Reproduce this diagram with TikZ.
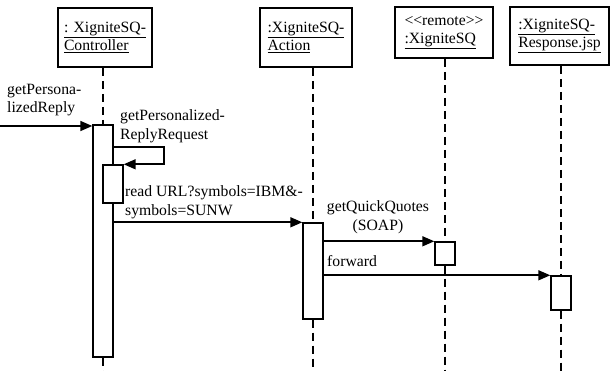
\documentclass[tikz,border=0pt]{standalone}
\usepackage{fontspec}
\setmainfont{Liberation Serif}
\usetikzlibrary{arrows.meta,positioning}

\begin{document}
\begin{tikzpicture}[x=1pt, y=-1pt,
    font=\fontsize{15.7}{18.5}\selectfont,
    object/.style={rectangle, draw, line width=1.8pt, align=left, inner sep=0pt},
    activation/.style={rectangle, draw, fill=white, line width=1.4pt, minimum width=20pt, inner sep=0pt},
    lifeline/.style={line width=1.5pt, dash pattern=on 8pt off 5pt},
    msg/.style={-{Triangle[length=12pt,width=10pt]}, line width=1.6pt},
    msglabel/.style={inner sep=0pt, align=left, anchor=north west}]

    \useasboundingbox (0,0) rectangle (611,371);

    % objects
    \node[object, minimum width=94pt, minimum height=59pt] (ctrl) at (105,37.5) {\underline{: XigniteSQ-}\\\underline{Controller}};
    \node[object, minimum width=92pt, minimum height=59pt] (action) at (306,37.5) {\underline{:XigniteSQ-}\\\underline{Action}};
    \node[object, minimum width=98pt, minimum height=51pt] (remote) at (444,32.5) {<\kern0pt<remote>\kern0pt>\\\underline{:XigniteSQ}};
    \node[object, minimum width=99pt, minimum height=58pt] (resp) at (559.5,36) {\underline{:XigniteSQ-}\\\underline{Response.jsp}};

    % activations
    \node[activation, minimum height=232pt] (ctrlact) at (103,241) {};
    \node[activation, minimum height=38pt] (nestact) at (113,184) {};
    \node[activation, minimum height=96pt] (actact) at (313,271) {};
    \node[activation, minimum height=23pt] (remact) at (445,253.5) {};
    \node[activation, minimum height=34pt] (respact) at (561,293) {};

    % lifelines
    \draw[lifeline] (ctrlact.north |- ctrl.south) -- (ctrlact.north);
    \draw[lifeline] (ctrlact.south) -- (ctrlact.south |- 0,371);
    \draw[lifeline] (actact.north |- action.south) -- (actact.north);
    \draw[lifeline] (actact.south) -- (actact.south |- 0,371);
    \draw[lifeline] (remact.north |- remote.south) -- (remact.north);
    \draw[lifeline] (remact.south) -- (remact.south |- 0,371);
    \draw[lifeline] (respact.north |- resp.south) -- (respact.north);
    \draw[lifeline] (respact.south) -- (respact.south |- 0,371);

    % messages
    \coordinate (caller) at (0,126);
    \draw[msg] (caller) -- (caller -| ctrlact.west);
    \draw[msg] (ctrlact.east |- 0,147) -- ++(50,0) |- (nestact.north east);
    \draw[msg] (ctrlact.east |- actact.north) -- (actact.north west);
    \draw[msg] (actact.east |- remact.north) -- (remact.north west);
    \draw[msg] (actact.east |- respact.north) -- (respact.north west);

    \node[msglabel] (l1) at (7,84) {getPersona-\\lizedReply};
    \node[msglabel] (l2) at (120,109.5) {getPersonalized-\\ReplyRequest};
    \node[msglabel] (l3) at (125,185.5) {read URL?symbols=IBM\&-\\symbols=SUNW};
    \node[msglabel, align=center, anchor=north] (l4) at (378,200.5) {getQuickQuotes\\(SOAP)};
    \node[msglabel] (l5) at (327,255.5) {forward};

\end{tikzpicture}
\end{document}
